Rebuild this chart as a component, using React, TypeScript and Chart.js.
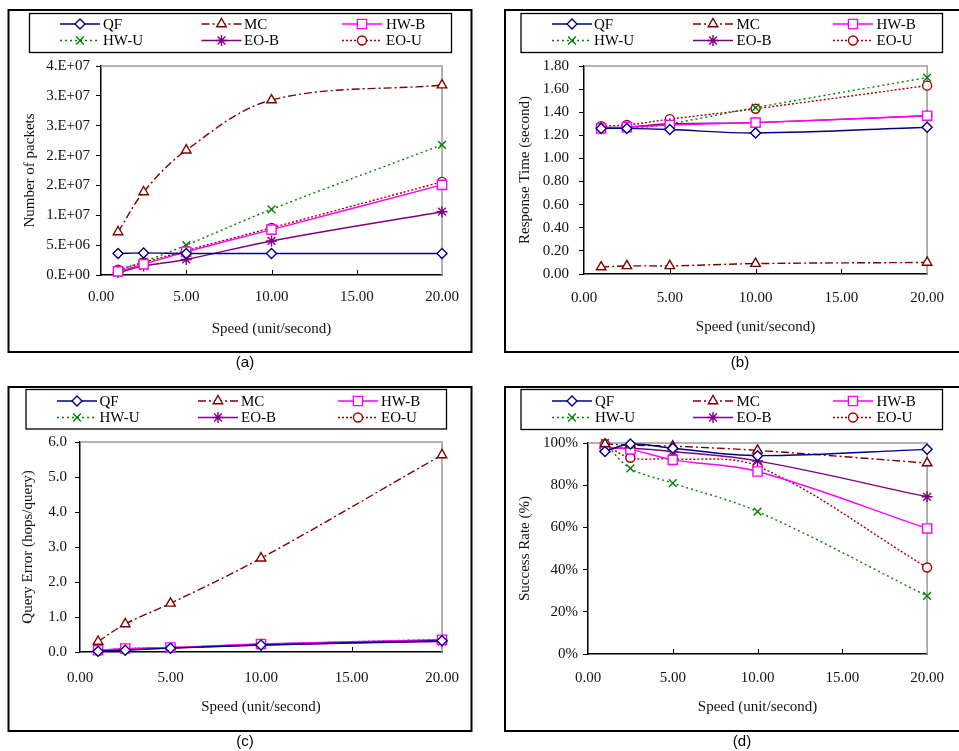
import React, { useEffect, useRef } from 'react';
import { Chart, registerables } from 'chart.js';
import { drawPoint } from 'chart.js/helpers';

Chart.register(...registerables);

// ---------------- data ----------------
const SPEED = [1, 2.5, 5, 10, 20];
const X_TICK_LABELS = ['0.00', '5.00', '10.00', '15.00', '20.00'];
const SERIES_NAMES = ['QF', 'MC', 'HW-B', 'HW-U', 'EO-B', 'EO-U'];

// (a) Number of packets
const PKT_QF = [3.6e6, 3.7e6, 3.6e6, 3.6e6, 3.6e6];
const PKT_MC = [7.2e6, 1.39e7, 2.09e7, 2.93e7, 3.18e7];
const PKT_HWB = [0.6e6, 1.8e6, 3.9e6, 7.6e6, 1.51e7];
const PKT_HWU = [0.8e6, 2.2e6, 5.0e6, 1.1e7, 2.18e7];
const PKT_EOB = [0.4e6, 1.5e6, 2.6e6, 5.7e6, 1.06e7];
const PKT_EOU = [0.9e6, 2.1e6, 4.1e6, 7.9e6, 1.56e7];
const PKT_TICK_LABELS = ['0.E+00', '5.E+06', '1.E+07', '2.E+07', '2.E+07', '3.E+07', '3.E+07', '4.E+07'];

// (b) Response time
const RT_QF = [1.26, 1.26, 1.25, 1.22, 1.27];
const RT_MC = [0.06, 0.07, 0.07, 0.09, 0.1];
const RT_HWB = [1.26, 1.27, 1.29, 1.31, 1.37];
const RT_HWU = [1.27, 1.26, 1.3, 1.44, 1.7];
const RT_EOB = [1.27, 1.27, 1.3, 1.31, 1.37];
const RT_EOU = [1.28, 1.29, 1.34, 1.43, 1.63];
const RT_TICK_LABELS = ['0.00', '0.20', '0.40', '0.60', '0.80', '1.00', '1.20', '1.40', '1.60', '1.80'];

// (c) Query error
const QE_QF = [0.02, 0.05, 0.11, 0.2, 0.32];
const QE_MC = [0.3, 0.8, 1.39, 2.68, 5.63];
const QE_HWB = [0.05, 0.1, 0.13, 0.23, 0.35];
const QE_HWU = [0.04, 0.09, 0.12, 0.22, 0.36];
const QE_EOB = [0.03, 0.07, 0.11, 0.2, 0.3];
const QE_EOU = [0.04, 0.09, 0.12, 0.22, 0.34];
const QE_TICK_LABELS = ['0.0', '1.0', '2.0', '3.0', '4.0', '5.0', '6.0'];

// (d) Success rate (%)
const SR_QF = [96, 99.5, 97.5, 94, 97];
const SR_MC = [99.5, 99, 98.5, 96.5, 90.5];
const SR_HWB = [98, 97, 92, 86.5, 59.5];
const SR_HWU = [100, 88, 81, 67.5, 27.5];
const SR_EOB = [97.5, 97.5, 96, 91.5, 74.5];
const SR_EOU = [99.5, 93, 92.5, 89, 41];
const SR_TICK_LABELS = ['0%', '20%', '40%', '60%', '80%', '100%'];

// ---------------- styles ----------------
const SERIF = '"Liberation Serif", "Times New Roman", serif';
const SANS = '"Liberation Sans", Arial, sans-serif';
const STYLES = [
  { color: '#000080', dash: [] as number[], point: 'rectRot', r: 5 },
  { color: '#800000', dash: [8, 3, 2, 3], point: 'triangle', r: 5.5 },
  { color: '#FF00FF', dash: [] as number[], point: 'rect', r: 6.5 },
  { color: '#008000', dash: [2, 3], point: 'crossRot', r: 5.5 },
  { color: '#800080', dash: [] as number[], point: 'star', r: 5.5 },
  { color: '#A00000', dash: [2, 2], point: 'circle', r: 4.5 },
];

type Spec = any;

const PANELS: Spec[] = [
  {
    key: 'a', left: 0, top: 0, w: 480, h: 375,
    area: { l: 101, r: 442, t: 66, b: 275 },
    yTitle: 'Number of packets', yTitleX: 30, xTitleY: 329, xLabelY: 297, yLabelRight: 90,
    yMax: 3.5e7, yStep: 5e6, yLabels: PKT_TICK_LABELS,
    data: [PKT_QF, PKT_MC, PKT_HWB, PKT_HWU, PKT_EOB, PKT_EOU],
    box: { l: 8.5, t: 10, r: 471.5, b: 352 },
    legendBox: { l: 29.5, t: 13.5, r: 451.5, b: 52.5 },
    rows: [24, 40.5], cols: [[60, 100, 103], [201.5, 241.5, 244], [342, 382, 386]],
    caption: '(a)', capX: 245, capY: 363,
  },
  {
    key: 'b', left: 480, top: 0, w: 479, h: 375,
    area: { l: 104, r: 458, t: 66, b: 274 },
    yTitle: 'Response Time (second)', yTitleX: 45, xTitleY: 327, xLabelY: 298, yLabelRight: 89,
    yMax: 1.8, yStep: 0.2, yLabels: RT_TICK_LABELS,
    data: [RT_QF, RT_MC, RT_HWB, RT_HWU, RT_EOB, RT_EOU],
    box: { l: 25, t: 10, r: 495, b: 352 },
    legendBox: { l: 41, t: 13.5, r: 462.5, b: 52.5 },
    rows: [24, 40.5], cols: [[72, 112, 114], [213, 253, 256.5], [353, 393, 396.5]],
    caption: '(b)', capX: 260, capY: 363,
  },
  {
    key: 'c', left: 0, top: 375, w: 480, h: 376,
    area: { l: 80, r: 442, t: 67, b: 277 },
    yTitle: 'Query Error (hops/query)', yTitleX: 28, xTitleY: 332, xLabelY: 303, yLabelRight: 67,
    yMax: 6, yStep: 1, yLabels: QE_TICK_LABELS,
    data: [QE_QF, QE_MC, QE_HWB, QE_HWU, QE_EOB, QE_EOU],
    box: { l: 8.5, t: 12, r: 471.5, b: 356 },
    legendBox: { l: 26, t: 14.5, r: 446.5, b: 54 },
    rows: [26, 42.5], cols: [[57, 97, 99.5], [198, 238, 241], [338, 378, 381]],
    caption: '(c)', capX: 245, capY: 367,
  },
  {
    key: 'd', left: 480, top: 375, w: 479, h: 376,
    area: { l: 108, r: 458, t: 68, b: 279 },
    yTitle: 'Success Rate (%)', yTitleX: 45, xTitleY: 332, xLabelY: 303, yLabelRight: 98,
    yMax: 100, yStep: 20, yLabels: SR_TICK_LABELS,
    data: [SR_QF, SR_MC, SR_HWB, SR_HWU, SR_EOB, SR_EOU],
    box: { l: 25, t: 12, r: 495, b: 356 },
    legendBox: { l: 41, t: 14.5, r: 462.5, b: 54.5 },
    rows: [26, 42.5], cols: [[72, 112, 115], [213, 253, 256.5], [353, 393, 396.5]],
    caption: '(d)', capX: 262, capY: 367,
  },
];

function decorPlugin(spec: Spec) {
  return {
    id: 'decor' + spec.key,
    beforeDatasetsDraw(chart: any) {
      const { ctx, chartArea: a } = chart;
      ctx.save();
      ctx.strokeStyle = '#9a9a9a';
      ctx.lineWidth = 1.5;
      ctx.setLineDash([]);
      ctx.beginPath();
      ctx.moveTo(a.left, a.top);
      ctx.lineTo(a.right, a.top);
      ctx.lineTo(a.right, a.bottom);
      ctx.stroke();
      const xs = chart.scales.x;
      ctx.strokeStyle = '#000';
      ctx.lineWidth = 1;
      [5, 10, 15].forEach((v) => {
        const px = Math.round(xs.getPixelForValue(v)) + 0.5;
        ctx.beginPath();
        ctx.moveTo(px, a.bottom);
        ctx.lineTo(px, a.bottom - 5);
        ctx.stroke();
      });
      ctx.restore();
    },
    afterDraw(chart: any) {
      const { ctx } = chart;
      ctx.save();
      ctx.setLineDash([]);
      const b = spec.box;
      ctx.strokeStyle = '#000';
      ctx.lineWidth = 2;
      ctx.strokeRect(b.l, b.t, b.r - b.l, b.b - b.t);
      const lb = spec.legendBox;
      ctx.lineWidth = 1.3;
      ctx.strokeRect(lb.l, lb.t, lb.r - lb.l, lb.b - lb.t);
      ctx.font = `15px ${SERIF}`;
      ctx.textBaseline = 'middle';
      ctx.textAlign = 'left';
      SERIES_NAMES.forEach((name, i) => {
        const st = STYLES[i];
        const y = spec.rows[Math.floor(i / 3)];
        const [x1, x2, tx] = spec.cols[i % 3];
        ctx.strokeStyle = st.color;
        ctx.lineWidth = 1.4;
        ctx.setLineDash(st.dash);
        ctx.beginPath();
        ctx.moveTo(x1, y);
        ctx.lineTo(x2, y);
        ctx.stroke();
        ctx.setLineDash([]);
        ctx.fillStyle = '#fff';
        ctx.strokeStyle = st.color;
        ctx.lineWidth = 1.4;
        drawPoint(ctx, { pointStyle: st.point, radius: st.r, rotation: 0, borderWidth: 1.4 } as any, (x1 + x2) / 2, y);
        ctx.fillStyle = '#000';
        ctx.fillText(name, tx, y + 1);
      });
      ctx.font = `15px ${SANS}`;
      ctx.textAlign = 'center';
      ctx.fillStyle = '#000';
      ctx.fillText(spec.caption, spec.capX, spec.capY);
      ctx.restore();
    },
  };
}

function buildConfig(spec: Spec): any {
  const a = spec.area;
  const tickFont = { family: SERIF, size: 15 };
  return {
    type: 'line',
    data: {
      datasets: spec.data.map((vals: number[], i: number) => ({
        label: SERIES_NAMES[i],
        data: SPEED.map((x, j) => ({ x, y: vals[j] })),
        borderColor: STYLES[i].color,
        borderDash: STYLES[i].dash,
        borderWidth: 1.4,
        tension: 0.35,
        fill: false,
        clip: false,
        pointStyle: STYLES[i].point,
        pointRadius: STYLES[i].r,
        pointBorderWidth: 1.4,
        pointBorderColor: STYLES[i].color,
        pointBackgroundColor: '#ffffff',
      })),
    },
    options: {
      responsive: false,
      animation: false,
      events: [],
      layout: { padding: { left: 0, top: a.t, right: spec.w - a.r, bottom: 0 } },
      plugins: { legend: { display: false }, tooltip: { enabled: false }, title: { display: false } },
      scales: {
        x: {
          type: 'linear',
          min: 0,
          max: 20,
          afterBuildTicks: (s: any) => { s.ticks = [0, 5, 10, 15, 20].map((v) => ({ value: v })); },
          ticks: {
            callback: (_v: any, i: number) => X_TICK_LABELS[i] ?? '',
            padding: spec.xLabelY - a.b - 9,
            font: tickFont,
            color: '#111',
            maxRotation: 0,
            autoSkip: false,
          },
          grid: { display: false, drawTicks: false },
          border: { display: true, color: '#000', width: 1.5 },
          title: {
            display: true,
            text: 'Speed (unit/second)',
            font: tickFont,
            color: '#111',
            padding: { top: 0, bottom: spec.h - spec.xTitleY - 9 },
          },
          afterFit: (s: any) => { s.height = spec.h - a.b; },
        },
        y: {
          type: 'linear',
          min: 0,
          max: spec.yMax,
          ticks: {
            stepSize: spec.yStep,
            callback: (_v: any, i: number) => spec.yLabels[i] ?? '',
            padding: a.l - spec.yLabelRight - 5,
            font: tickFont,
            color: '#111',
            autoSkip: false,
          },
          grid: { display: true, drawOnChartArea: false, drawTicks: true, tickLength: 5, color: '#000', lineWidth: 1 },
          border: { display: true, color: '#000', width: 1.5 },
          title: {
            display: true,
            text: spec.yTitle,
            font: tickFont,
            color: '#111',
            padding: { top: spec.yTitleX - 9, bottom: 0 },
          },
          afterFit: (s: any) => { s.width = a.l; },
        },
      },
    },
    plugins: [decorPlugin(spec)],
  };
}

function Panel({ spec }: { spec: Spec }) {
  const ref = useRef<HTMLCanvasElement | null>(null);
  useEffect(() => {
    if (!ref.current) return;
    const chart = new Chart(ref.current, buildConfig(spec));
    return () => chart.destroy();
  }, [spec]);
  return (
    <canvas
      ref={ref}
      width={spec.w}
      height={spec.h}
      style={{ position: 'absolute', left: spec.left, top: spec.top, width: spec.w, height: spec.h, display: 'block' }}
    />
  );
}

export default function App() {
  return (
    <div style={{ position: 'fixed', left: 0, top: 0, width: 959, height: 751, background: '#fff', overflow: 'hidden' }}>
      {PANELS.map((p) => (
        <Panel key={p.key} spec={p} />
      ))}
    </div>
  );
}
